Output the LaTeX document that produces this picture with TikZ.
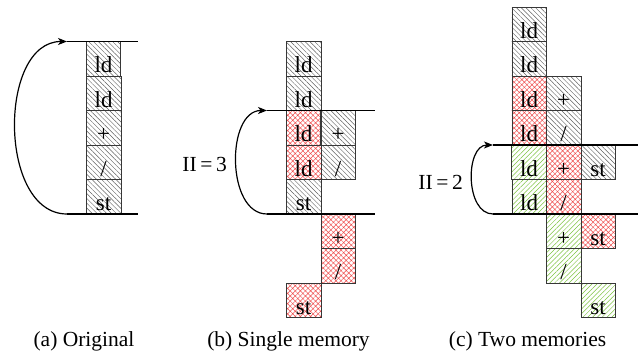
\documentclass[tikz,border=0pt]{standalone}
\usepackage{fontspec}
\setmainfont{Liberation Serif}
\usetikzlibrary{patterns.meta,arrows.meta}
\definecolor{hatchgray}{RGB}{95,95,95}
\definecolor{hatchred}{RGB}{238,80,80}
\definecolor{hatchgreen}{RGB}{125,195,65}
\definecolor{boxedge}{RGB}{55,55,55}
\tikzset{
  cellbox/.style={draw=boxedge, line width=0.7pt, minimum width=34.5pt, minimum height=34.5pt,
    inner sep=0pt, anchor=north west, text height=27.5pt, text depth=0pt,
    font=\fontsize{23}{26}\selectfont},
  gc/.style={cellbox, pattern={Lines[angle=-45,distance=3.4pt,line width=0.45pt]}, pattern color=hatchgray},
  rc/.style={cellbox, pattern={Hatch[angle=45,distance=3.6pt,line width=0.5pt]}, pattern color=hatchred},
  nc/.style={cellbox, pattern={Lines[angle=45,distance=3.4pt,line width=0.5pt]}, pattern color=hatchgreen},
  bline/.style={line width=1.6pt},
  loop/.style={line width=1.2pt, -{Stealth[length=9pt,width=7pt,inset=2.5pt]}},
  lbl/.style={font=\fontsize{21.5}{24}\selectfont, inner sep=0pt},
}
\begin{document}
\begin{tikzpicture}[x=1pt,y=-1pt]
\useasboundingbox (0,0) rectangle (638,352);
% ---------- (a) Original ----------
\node[gc] (a0) at (86,41.5) {ld};
\node[gc] (a1) at (86,76) {ld};
\node[gc] (a2) at (86,110.5) {+};
\node[gc] (a3) at (86,145) {/};
\node[gc] (a4) at (86,179.5) {st};
\coordinate (aT) at (67,41.5);
\coordinate (aTr) at (138,41.5);
\coordinate (aB) at (67,214);
\coordinate (aBr) at (138,214);
\draw[bline] (aT) -- (aTr);
\draw[bline] (aB) -- (aBr);
\draw[loop] (aB) .. controls +(-69,0) and +(-69,0) .. (aT);
% ---------- (b) Single memory ----------
\node[gc] (b0) at (286,41.5) {ld};
\node[gc] (b1) at (286,76) {ld};
\node[rc] (b2) at (286,110.5) {ld};
\node[rc] (b3) at (286,145) {ld};
\node[gc] (b4) at (286,179.5) {st};
\node[rc] (b7) at (286,283) {st};
\node[gc] (b2p) at (320.5,110.5) {+};
\node[gc] (b3d) at (320.5,145) {/};
\node[rc] (b5p) at (320.5,214) {+};
\node[rc] (b6d) at (320.5,248.5) {/};
\coordinate (bT) at (267,110.5);
\coordinate (bTr) at (375,110.5);
\coordinate (bB) at (267,214);
\coordinate (bBr) at (375,214);
\draw[bline] (bT) -- (bTr);
\draw[bline] (bB) -- (bBr);
\draw[loop] (bB) .. controls +(-41,0) and +(-41,0) .. (bT);
\node[lbl, anchor=base east] (bII) at (227,172) {II\,=\,3};
% ---------- (c) Two memories ----------
\node[gc] (c0) at (511.5,7) {ld};
\node[gc] (c1) at (511.5,41.5) {ld};
\node[rc] (c2) at (511.5,76) {ld};
\node[rc] (c3) at (511.5,110.5) {ld};
\node[nc] (c4) at (511.5,145) {ld};
\node[nc] (c5) at (511.5,179.5) {ld};
\node[gc] (c2p) at (546,76) {+};
\node[gc] (c3d) at (546,110.5) {/};
\node[rc] (c4p) at (546,145) {+};
\node[rc] (c5d) at (546,179.5) {/};
\node[nc] (c6p) at (546,214) {+};
\node[nc] (c7d) at (546,248.5) {/};
\node[gc] (c4s) at (580.5,145) {st};
\node[rc] (c6s) at (580.5,214) {st};
\node[nc] (c8s) at (580.5,283) {st};
\coordinate (cT) at (493,145);
\coordinate (cTr) at (638,145);
\coordinate (cB) at (493,214);
\coordinate (cBr) at (638,214);
\draw[bline] (cT) -- (cTr);
\draw[bline] (cB) -- (cBr);
\draw[loop] (cB) .. controls +(-28,0) and +(-28,0) .. (cT);
\node[lbl, anchor=base east] (cII) at (463,189.5) {II\,=\,2};
% ---------- captions ----------
\node[lbl, anchor=base] (capA) at (84,347) {(a) Original};
\node[lbl, anchor=base] (capB) at (288.5,347) {(b) Single memory};
\node[lbl, anchor=base] (capC) at (527.5,347) {(c) Two memories};
\end{tikzpicture}
\end{document}
